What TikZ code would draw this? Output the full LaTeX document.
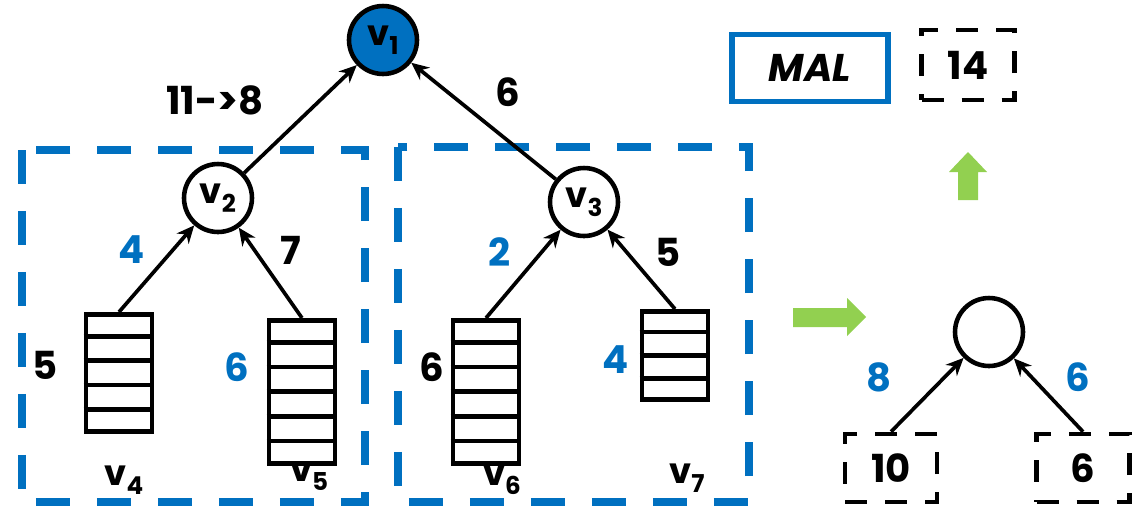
\documentclass[tikz,border=0pt]{standalone}
\usepackage{fontspec}
\setmainfont{Poppins}
\usetikzlibrary{arrows.meta,calc}
\definecolor{mblue}{HTML}{0070C0}
\definecolor{mgreen}{HTML}{92D050}
% vertex name with a lowered index
\newcommand\vn[1]{v\raisebox{-0.45ex}{\fontsize{14}{14}\selectfont #1}}

\begin{document}
\begin{tikzpicture}[x=0.02cm,y=-0.02cm,
  vert/.style={circle,draw,line width=2.6pt,minimum size=1.36cm,inner sep=0pt,
    font=\fontsize{20}{20}\selectfont\bfseries},
  edge/.style={line width=2.1pt,-{Stealth[length=10pt,width=9pt]}},
  lbl/.style={font=\fontsize{22}{22}\selectfont\bfseries},
  blbl/.style={lbl,text=mblue},
  group/.style={draw=mblue,line width=4pt,dash pattern=on 0.68cm off 0.54cm},
  slot/.style={draw,dash pattern=on 0.44cm off 0.36cm,line width=2.6pt,
    minimum width=1.84cm,minimum height=1.36cm,inner sep=0pt,
    font=\fontsize{22}{22}\selectfont\bfseries},
  stack/.style={draw,line width=2.6pt,minimum width=1.32cm,inner sep=0pt,anchor=north},
  bar/.style={line width=2.6pt},
  garrow/.style={fill=mgreen,draw=none}
]
\useasboundingbox (0,0) rectangle (1136,508);

% dashed groups
\draw[group] (22,150) rectangle (365,502);
\draw[group] (398,147) rectangle (749,502);

% vertices
\node[vert,fill=mblue] (v1) at (383,40) {\vn{1}};
\node[vert] (v2) at (218,198) {\vn{2}};
\node[vert] (v3) at (584,202) {\vn{3}};

% queues
\node[stack,minimum height=2.34cm] (s4) at (119,312) {};
\node[stack,minimum height=2.86cm] (s5) at (302,318) {};
\node[stack,minimum height=2.86cm] (s6) at (486,318) {};
\node[stack,minimum height=1.76cm] (s7) at (675,309) {};
\foreach \s/\n in {s4/5,s5/6,s6/6,s7/4}{
  \pgfmathtruncatemacro\m{\n-1}
  \foreach \k in {1,...,\m}
    \draw[bar] ($(\s.north west)!\k/\n!(\s.south west)$) -- ($(\s.north east)!\k/\n!(\s.south east)$);
}

% tree edges
\draw[edge] (v2) -- (v1);
\draw[edge] (v3) -- (v1);
\draw[edge] (s4.north) -- (v2);
\draw[edge] (s5.north) -- (v2);
\draw[edge] (s6.north) -- (v3);
\draw[edge] (s7.north) -- (v3);

% weights
\node[lbl] (w21) at (215,100) {11->8};
\node[lbl] (w31) at (508,92) {6};
\node[blbl] (w42) at (132,250) {4};
\node[lbl] (w52) at (291,250) {7};
\node[blbl] (w63) at (500,252) {2};
\node[lbl] (w73) at (668,252) {5};

% queue lengths
\node[lbl] (q4) at (45,365) {5};
\node[blbl] (q5) at (237,367) {6};
\node[lbl] (q6) at (432,367) {6};
\node[blbl] (q7) at (616,360) {4};

% leaf names
\node[lbl,font=\fontsize{20}{20}\selectfont\bfseries] (n4) at (124,480) {\vn{4}};
\node[lbl,font=\fontsize{20}{20}\selectfont\bfseries] (n5) at (309,476) {\vn{5}};
\node[lbl,font=\fontsize{20}{20}\selectfont\bfseries] (n6) at (502,480) {\vn{6}};
\node[lbl,font=\fontsize{20}{20}\selectfont\bfseries] (n7) at (687,478) {\vn{7}};

% reduced tree
\fill[garrow] (793,308) -- (847,308) -- (847,298) -- (866,317) -- (847,336) -- (847,327) -- (793,327) -- cycle;
\node[vert] (r) at (989,332) {};
\node[slot] (a) at (891,468) {10};
\node[slot,minimum width=1.86cm] (b) at (1083,468) {6};
\draw[edge] (a.north) -- (r);
\draw[edge] (b.north) -- (r);
\node[blbl] (wa) at (879,377) {8};
\node[blbl] (wb) at (1078,377) {6};

% result
\fill[garrow] (958,200) -- (958,172) -- (949,172) -- (968,152) -- (987,172) -- (978,172) -- (978,200) -- cycle;
\node[draw=mblue,line width=3pt,minimum width=3.12cm,minimum height=1.34cm,
  font=\fontsize{22}{22}\selectfont\bfseries\itshape] (mal) at (810,68) {MAL};
\node[slot,minimum width=1.86cm,minimum height=1.4cm] (res) at (968,65) {14};
\end{tikzpicture}
\end{document}
